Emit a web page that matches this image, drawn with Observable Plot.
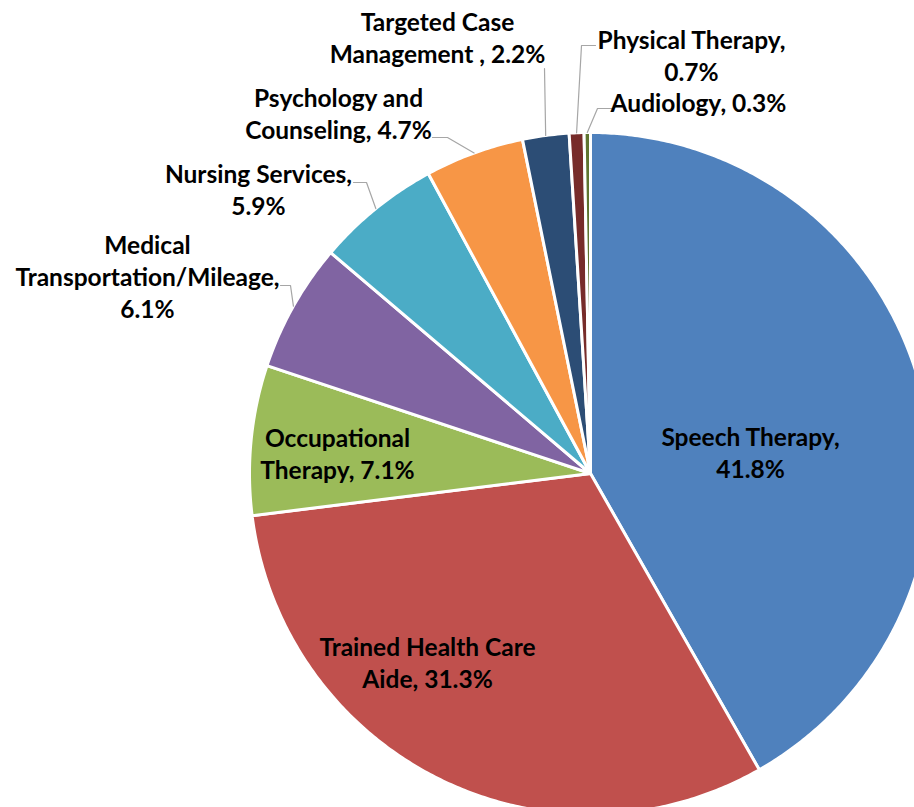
<!DOCTYPE html>
<html><head><meta charset="utf-8">
<script src="https://cdn.jsdelivr.net/npm/d3@7"></script>
<script src="https://cdn.jsdelivr.net/npm/@observablehq/plot@0.6"></script>
<style>html,body{margin:0;padding:0;background:#fff;overflow:hidden}</style>
</head><body><div id="chart"></div>
<script>
// ---- data ----
const categories = ["Speech Therapy", "Trained Health Care Aide", "Occupational Therapy", "Medical Transportation/Mileage", "Nursing Services", "Psychology and Counseling", "Targeted Case Management", "Physical Therapy", "Audiology"];
const values = [41.8, 31.3, 7.1, 6.1, 5.9, 4.7, 2.2, 0.7, 0.3];
const labelNames = ["Speech Therapy,\n", "Trained Health Care\nAide, ", "Occupational\nTherapy, ", "Medical\nTransportation/Mileage,\n", "Nursing Services,\n", "Psychology and\nCounseling, ", "Targeted Case\nManagement , ", "Physical Therapy,\n", "Audiology, "];
const colors = ["#4F81BD", "#C0504D", "#9BBB59", "#8064A2", "#4BACC6", "#F79646", "#2C4D75", "#772C2A", "#5F7530"];

// ---- layout (pixels relative to pie centre, y downwards) ----
const W = 914, H = 807, CX = 590, CY = 473, R = 341;
const labelOffsets = [[160, -22], [-163, 188], [-253, -21], [-443, -198], [-332, -285], [-252, -361], [-153, -437], [101, -419], [108, -372]];
const leaderOffsets = [null, null, null, [[-310, -188], [-300, -188]], [[-237, -291], [-224, -291]], [[-158, -336], [-143, -336]], [[-46, -405]], [[5, -428], [-9, -428]], [[23, -365], [7, -365]]];

// ---- derived geometry ----
const total = d3.sum(values);
let acc = 0;
const slices = categories.map((c, i) => {
  const a0 = acc / total * 2 * Math.PI; acc += values[i];
  const a1 = acc / total * 2 * Math.PI;
  return {c, i, a0, a1, am: (a0 + a1) / 2};
});
const polyPts = [];
for (const s of slices) {
  const n = Math.max(2, Math.ceil((s.a1 - s.a0) / (Math.PI / 360)));
  polyPts.push({c: s.c, x: 0, y: 0});
  for (let k = 0; k <= n; k++) {
    const a = s.a0 + (s.a1 - s.a0) * k / n;
    polyPts.push({c: s.c, x: Math.sin(a), y: Math.cos(a)});
  }
  polyPts.push({c: s.c, x: 0, y: 0});
}
const labels = slices.map((s, i) => ({
  c: s.c,
  text: labelNames[i] + values[i].toFixed(1) + "%",
  x: labelOffsets[i][0] / R,
  y: -labelOffsets[i][1] / R
}));
const leaderPts = [];
slices.forEach((s, i) => {
  if (!leaderOffsets[i]) return;
  for (const [dx, dy] of leaderOffsets[i]) leaderPts.push({c: s.c, x: dx / R, y: -dy / R});
  leaderPts.push({c: s.c, x: Math.sin(s.am), y: Math.cos(s.am)});
});

const chart = Plot.plot({
  width: W, height: H, margin: 0,
  style: {background: "#fff"},
  x: {domain: [-CX / R, (W - CX) / R], axis: null},
  y: {domain: [(CY - H) / R, CY / R], axis: null},
  color: {domain: categories, range: colors},
  marks: [
    Plot.line(polyPts, {x: "x", y: "y", z: "c", fill: "c", stroke: "white", strokeWidth: 3, curve: "linear", clip: true}),
    Plot.line(leaderPts, {x: "x", y: "y", z: "c", stroke: "#a6a6a6", strokeWidth: 1.2}),
    Plot.text(labels, {x: "x", y: "y", text: "text", fontSize: 24.5, fontWeight: "bold", fontFamily: "Lato", lineHeight: 1.32, textAnchor: "middle", lineAnchor: "middle", fill: "#000"})
  ]
});
document.getElementById("chart").appendChild(chart);
</script>
</body></html>
